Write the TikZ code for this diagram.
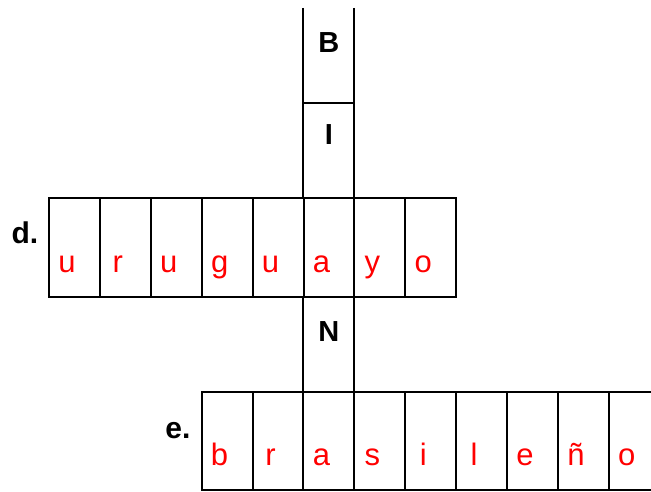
\documentclass[tikz,border=0pt]{standalone}
\usepackage{fontspec}
\setmainfont{Liberation Sans}
\begin{document}
\begin{tikzpicture}[x=1pt, y=-1pt, line width=2pt,
    answer/.style={text=red, font=\fontsize{31}{31}\selectfont, anchor=base},
    given/.style={font=\bfseries\fontsize{29}{29}\selectfont, anchor=base},
    clue/.style={font=\bfseries\fontsize{30}{30}\selectfont, anchor=base}]
    \useasboundingbox (0,0) rectangle (651,492);
    \clip (0,0) rectangle (651,492);

    % Down column (open at the top)
    \draw (303.4,8) -- (303.4,198) (354.3,8) -- (354.3,198);
    \draw (303.4,103) -- (354.3,103);
    \draw (303.4,297) rectangle (354.3,392);

    % Row d
    \foreach \i in {0,...,7}
        \draw (49+50.9*\i,198) rectangle ++(50.9,99);

    % Row e (runs off the right edge)
    \foreach \i in {0,...,8}
        \draw (201.6+50.9*\i,392) rectangle ++(50.9,98);

    % Given letters
    \node[given] (b) at (328.8,53) {B};
    \node[given] (i) at (328.8,145) {I};
    \node[given] (n) at (328.8,341) {N};

    % Clue numbers
    \node[clue] (clued) at (25,243) {d.};
    \node[clue] (cluee) at (178,438) {e.};

    % Answers
    \foreach \l [count=\i from 0] in {u,r,u,g,u,a,y,o}
        \node[answer] (d\i) at (67+50.9*\i,272) {\l};
    \foreach \l [count=\i from 0] in {b,r,a,s,i,l,e,ñ,o}
        \node[answer] (e\i) at (219.6+50.9*\i,465) {\l};
\end{tikzpicture}
\end{document}
